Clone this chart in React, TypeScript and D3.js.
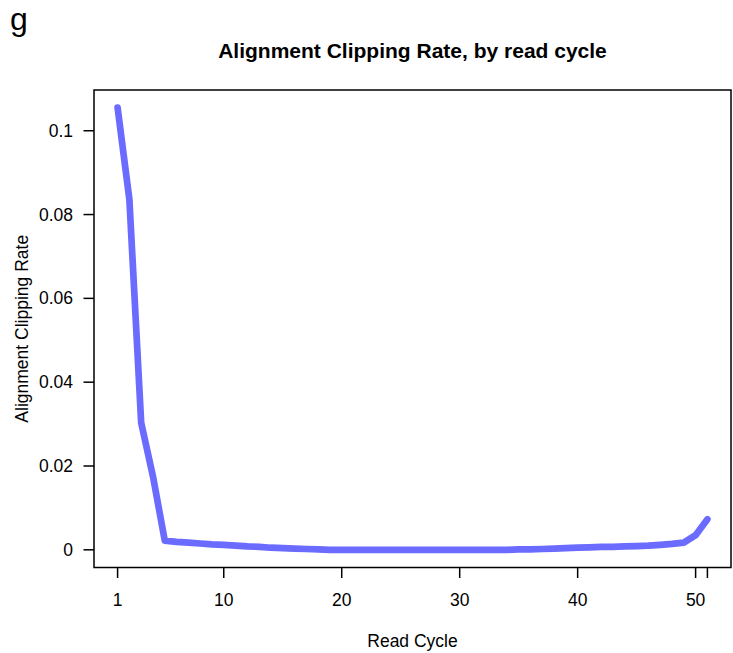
import React from "react";
import * as d3 from "d3";

// Alignment clipping rate for each read cycle (1..51)
const cycles: number[] = d3.range(1, 52);
const clipRate: number[] = [
  0.1055, 0.0836, 0.0303, 0.0175, 0.0022, 0.0019, 0.0017, 0.0015, 0.0013, 0.0012,
  0.0010, 0.0008, 0.0007, 0.0005, 0.0004, 0.0003, 0.0002, 0.0001, 0.0000, 0.0000,
  0.0000, 0.0000, 0.0000, 0.0000, 0.0000, 0.0000, 0.0000, 0.0000, 0.0000, 0.0000,
  0.0000, 0.0000, 0.0000, 0.0000, 0.0001, 0.0001, 0.0002, 0.0003, 0.0004, 0.0005,
  0.0006, 0.0007, 0.0007, 0.0008, 0.0009, 0.0010, 0.0012, 0.0014, 0.0017, 0.0035,
  0.0073,
];
const xTicks: number[] = [1, 10, 20, 30, 40, 50, 51];
const xTickLabels: string[] = ["1", "10", "20", "30", "40", "50", ""];
const yTicks: number[] = [0, 0.02, 0.04, 0.06, 0.08, 0.1];
const yTickLabels: string[] = ["0", "0.02", "0.04", "0.06", "0.08", "0.1"];

const W = 733;
const H = 653;
const box = { left: 94, right: 731, top: 90, bottom: 567.5 };
const FONT = "Liberation Sans, Arial, Helvetica, sans-serif";

export default function App() {
  // 4% padding around the data range on both axes
  const xMin = d3.min(cycles)!, xMax = d3.max(cycles)!;
  const xPad = (xMax - xMin) * 0.04;
  const yMin = 0, yMax = d3.max(clipRate)!;
  const yPad = (yMax - yMin) * 0.04;

  const x = d3.scaleLinear().domain([xMin - xPad, xMax + xPad]).range([box.left, box.right]);
  const y = d3.scaleLinear().domain([yMin - yPad, yMax + yPad]).range([box.bottom, box.top]);

  const line = d3
    .line<number>()
    .x((_, i) => x(cycles[i]))
    .y((d) => y(d));

  const tickLen = 10.5;
  const fs = 17.5;

  return (
    <svg
      width={W}
      height={H}
      style={{ position: "absolute", left: 0, top: 0, background: "#fff" }}
      fontFamily={FONT}
    >
      <rect x={0} y={0} width={W} height={H} fill="#fff" />
      <text x={10} y={30} fontSize={32} fill="#000">g</text>
      <text
        x={(box.left + box.right) / 2}
        y={57.5}
        fontSize={21}
        fontWeight="bold"
        textAnchor="middle"
        fill="#000"
      >
        Alignment Clipping Rate, by read cycle
      </text>

      <path
        d={line(clipRate) || ""}
        fill="none"
        stroke="#6B6BFF"
        strokeWidth={6.7}
        strokeLinecap="round"
        strokeLinejoin="round"
      />

      <rect
        x={box.left}
        y={box.top}
        width={box.right - box.left}
        height={box.bottom - box.top}
        fill="none"
        stroke="#000"
        strokeWidth={1.5}
      />

      {/* y axis */}
      {yTicks.map((t, i) => (
        <g key={`y${i}`}>
          <line x1={box.left - tickLen} x2={box.left} y1={y(t)} y2={y(t)} stroke="#000" strokeWidth={1.5} />
          <text x={73} y={y(t)} dy="0.35em" fontSize={fs} textAnchor="end" fill="#000">
            {yTickLabels[i]}
          </text>
        </g>
      ))}
      <text
        transform={`translate(28,${(box.top + box.bottom) / 2}) rotate(-90)`}
        fontSize={fs}
        textAnchor="middle"
        fill="#000"
      >
        Alignment Clipping Rate
      </text>

      {/* x axis */}
      {xTicks.map((t, i) => (
        <g key={`x${i}`}>
          <line x1={x(t)} x2={x(t)} y1={box.bottom} y2={box.bottom + tickLen} stroke="#000" strokeWidth={1.5} />
          <text x={x(t)} y={606} fontSize={fs} textAnchor="middle" fill="#000">
            {xTickLabels[i]}
          </text>
        </g>
      ))}
      <text x={(box.left + box.right) / 2} y={647} fontSize={fs} textAnchor="middle" fill="#000">
        Read Cycle
      </text>
    </svg>
  );
}
